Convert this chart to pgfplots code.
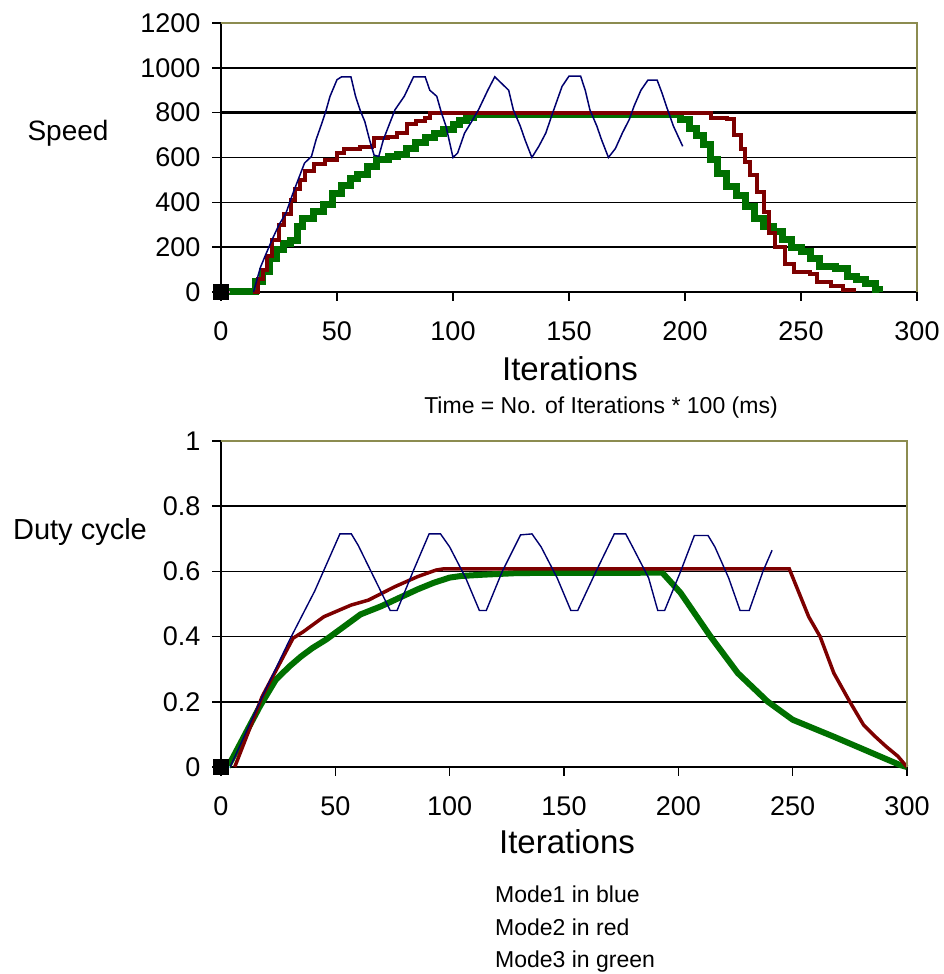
\documentclass[border=0pt]{standalone}
\usepackage{fontspec}
\setmainfont{Liberation Sans}
\usepackage{pgfplots}
\pgfplotsset{compat=1.18}

\definecolor{modeblue}{RGB}{0,0,110}
\definecolor{modered}{RGB}{125,0,0}
\definecolor{modegreen}{RGB}{0,112,0}
\definecolor{frameolive}{RGB}{140,140,80}
\definecolor{markpink}{RGB}{230,130,200}
\definecolor{markcyan}{RGB}{110,200,210}

\pgfplotsset{
  excelstyle/.style={
    scale only axis,
    xmin=0, xmax=300,
    xtick={0,50,...,300},
    axis x line*=bottom,
    axis y line*=left,
    axis line style={-, black, line width=1.5pt},
    tick align=outside,
    major tick length=9pt,
    tick style={black, line width=1.5pt},
    ymajorgrids,
    grid style={black, line width=1.5pt},
    ticklabel style={font=\fontsize{27}{30}\selectfont},
    yticklabel style={xshift=-8pt},
    xticklabel style={yshift=-17pt},
    /pgf/number format/assume math mode=true,
    /pgf/number format/1000 sep={},
    clip=false,
  }
}

\begin{document}
\begin{tikzpicture}[x=1pt,y=1pt]
\path[use as bounding box] (0,0) rectangle (944,974);

% ---- top: speed ----
\begin{axis}[excelstyle,
  at={(221pt,682pt)}, anchor=south west,
  width=696pt, height=269pt,
  ymin=0, ymax=1200,
  ytick={0,200,...,1200},
]
% setpoint
\addplot[black, line width=3.5pt] coordinates {(0,800) (300,800)};
% Mode3
\addplot[modegreen, line width=7pt, const plot] coordinates {
  (0,0) (12,0) (15,45) (18,90) (21,150) (24,190) (27,215) (30,230)
  (33,290) (35,330) (40,360) (44,390) (48,440) (52,475) (56,505)
  (59,525) (63,560) (67,590) (72,605) (76,615) (80,640) (84,665)
  (88,690) (92,705) (96,725) (100,745) (103,765) (106,780) (109,792)
  (194,792) (198,770) (202,730) (205,700) (208,660) (211,590) (214,530)
  (218,470) (222,430) (226,380) (230,330) (234,290) (238,270) (242,235)
  (246,200) (250,180) (254,150) (258,115) (265,105) (270,70) (274,55)
  (278,40) (282,10) (284,0)
};
% Mode2
\addplot[modered, line width=4pt, const plot] coordinates {
  (14,0) (16,60) (18,100) (20,160) (22,230) (25,300) (27,350) (30,410)
  (32,460) (34,500) (36,540) (40,570) (45,590) (50,620) (53,640)
  (60,645) (65,650) (66,685) (72,690) (76,710) (80,750) (84,765)
  (88,775) (90,800) (209,800) (211,775) (218,770) (221,700) (224,640)
  (226,580) (228,520) (231,445) (234,355) (236,265) (239,200) (243,125)
  (247,88) (254,82) (257,45) (263,25) (268,8) (273,0)
};
% Mode1
\addplot[modeblue, line width=1.5pt] coordinates {
  (14,0) (17,110) (19,160) (22,233) (25,300) (28,352) (31,440) (33,494)
  (36,575) (39,605) (41,680) (43,739) (45,800) (47,873) (50,947)
  (52,960) (56,960) (58,873) (60,810) (62,760) (64,680) (66,610)
  (68,605) (70,680) (73,760) (75,813) (79,873) (83,960) (88,960)
  (90,900) (93,873) (95,800) (97,739) (100,600) (102,620) (105,709)
  (108,760) (111,813) (115,900) (118,960) (121,930) (124,900) (126,813)
  (129,740) (131,680) (134,600) (137,650) (140,709) (143,800) (147,917)
  (150,963) (155,963) (157,900) (159,813) (162,740) (164,680) (167,600)
  (170,640) (173,709) (176,770) (178,828) (181,900) (184,945) (188,945)
  (190,890) (192,828) (195,740) (199,650)
};
% origin marker
\addplot[markpink, line width=1.5pt, mark=square*, mark size=7.5pt,
  mark options={black}, mark indices={1}] coordinates {(0,0) (4,0)};
\draw[frameolive, line width=1.5pt] (rel axis cs:0,1) -- (rel axis cs:1,1) -- (rel axis cs:1,0);
\end{axis}

% ---- bottom: duty cycle ----
\begin{axis}[excelstyle,
  at={(221pt,207pt)}, anchor=south west,
  width=686pt, height=326pt,
  ymin=0, ymax=1,
  ytick={0,0.2,...,1},
]
% Mode3
\addplot[modegreen, line width=6pt] coordinates {
  (3,0) (10,0.093) (17,0.186) (24,0.268) (30,0.309) (35,0.339)
  (40,0.365) (46,0.391) (54,0.432) (61,0.468) (70,0.493) (78,0.519)
  (86,0.545) (93,0.565) (100,0.581) (105,0.586) (115,0.59) (130,0.595)
  (193,0.596) (201,0.534) (214,0.401) (226,0.288) (239,0.201)
  (250,0.145) (268,0.093) (285,0.042) (297,0.006) (300,0)
};
% Mode2
\addplot[modered, line width=3.5pt] coordinates {
  (6,0) (18,0.216) (31.5,0.395) (36,0.415) (45,0.461) (57,0.497)
  (64.5,0.512) (76,0.553) (86,0.584) (94,0.604) (97.5,0.608)
  (248.5,0.608) (257,0.461) (262,0.40) (268,0.288) (275,0.2)
  (281,0.129) (286,0.094) (291,0.062) (296,0.033) (300,0)
};
% Mode1
\addplot[modeblue, line width=1.4pt] coordinates {
  (4,0) (18,0.215) (30,0.39) (41,0.54) (52,0.715) (57,0.715) (60,0.68)
  (67,0.58) (74,0.48) (77,0.48) (84,0.6) (91,0.715) (96,0.715)
  (100,0.675) (107,0.58) (113,0.48) (116,0.48) (123,0.6) (131,0.712)
  (136,0.715) (140,0.675) (147,0.58) (153,0.48) (156,0.48) (164,0.6)
  (172,0.715) (177,0.715) (180,0.675) (187,0.58) (191,0.48) (194,0.48)
  (201,0.6) (207,0.71) (213,0.71) (216,0.675) (222,0.58) (227,0.48)
  (231,0.48) (237,0.6) (241,0.665)
};
% origin marker
\addplot[markcyan, line width=1.5pt, mark=square*, mark size=7.5pt,
  mark options={black}, mark indices={1}] coordinates {(0,0) (4,0)};
\draw[frameolive, line width=1.5pt] (rel axis cs:0,1) -- (rel axis cs:1,1) -- (rel axis cs:1,0);
\end{axis}

% ---- texts ----
\node[font=\fontsize{28}{32}\selectfont] at (68,841) {Speed};
\node[font=\fontsize{29}{32}\selectfont] at (80,442) {Duty cycle};
\node[font=\fontsize{33}{36}\selectfont, anchor=base] at (570,593) {Iterations};
\node[font=\fontsize{23}{26}\selectfont, anchor=base] at (601,560) {Time = No. of Iterations * 100 (ms)};
\node[font=\fontsize{33}{36}\selectfont, anchor=base] at (567,120) {Iterations};
\node[font=\fontsize{23}{26}\selectfont, anchor=base west, inner sep=0pt] at (495,71) {Mode1 in blue};
\node[font=\fontsize{23}{26}\selectfont, anchor=base west, inner sep=0pt] at (495,38) {Mode2 in red};
\node[font=\fontsize{23}{26}\selectfont, anchor=base west, inner sep=0pt] at (495,6) {Mode3 in green};
\end{tikzpicture}
\end{document}
